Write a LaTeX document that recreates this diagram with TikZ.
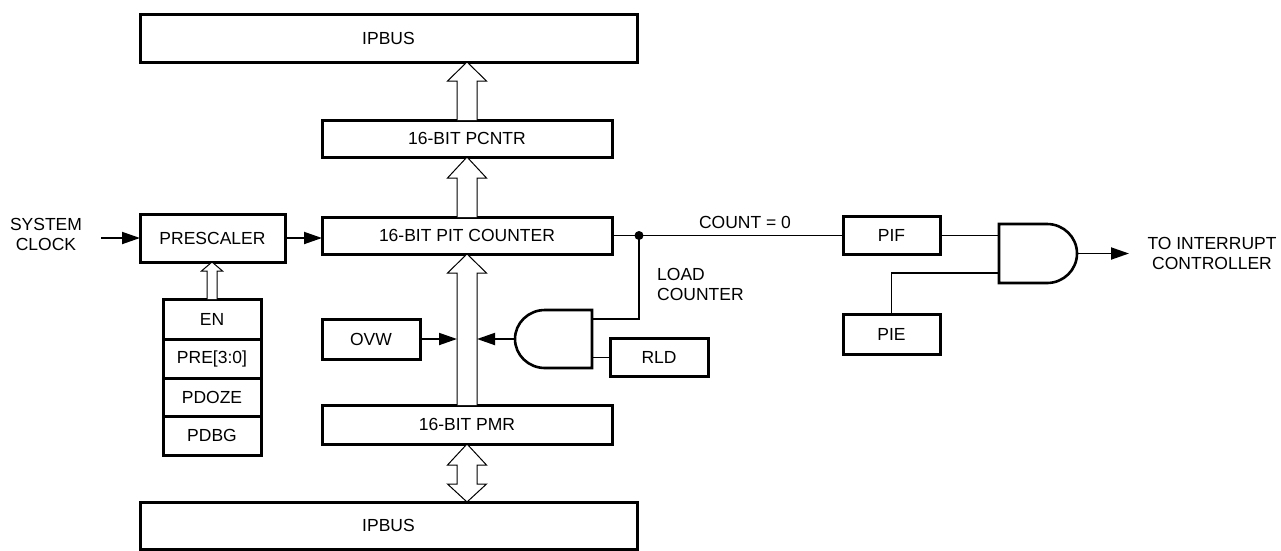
\documentclass[tikz,border=0pt]{standalone}
\usepackage{fontspec}
\setmainfont{Liberation Sans}
\usetikzlibrary{arrows.meta}
\tikzset{
  box/.style={draw, line width=3pt, rectangle, inner sep=0pt, outer sep=0pt, font=\fontsize{17.5}{20}\selectfont},
  wire/.style={line width=1.9pt},
  arr/.style={wire, -{Triangle[length=18pt,width=12pt]}},
  hollow/.style={draw, line width=1pt, fill=white, line join=miter},
  gate/.style={draw, line width=2.6pt, fill=white},
  lbl/.style={font=\fontsize{17.5}{20}\selectfont, inner sep=0pt, align=center},
}
% #1 base point, #2 tip point, #3 shaft half width, #4 head half width, #5 head length
\newcommand\busup[5]{%
  \draw[hollow] ([xshift=-#3]#1) -- ([xshift=-#3,yshift=-#5]#2) -- ([xshift=-#4,yshift=-#5]#2) -- (#2)
    -- ([xshift=#4,yshift=-#5]#2) -- ([xshift=#3,yshift=-#5]#2) -- ([xshift=#3]#1);}
\begin{document}
\begin{tikzpicture}[x=1pt,y=-1pt]
\useasboundingbox (0,0) rectangle (1281,550);

% boxes
\node[box, minimum width=497pt, minimum height=48pt] (ipbusT) at (388.5,38) {IPBUS};
\node[box, minimum width=290pt, minimum height=37pt] (pcntr) at (467,138.5) {16-BIT PCNTR};
\node[box, minimum width=290pt, minimum height=37pt] (pit) at (467,235.5) {16-BIT PIT COUNTER};
\node[box, minimum width=290pt, minimum height=39pt] (pmr) at (467,424.5) {16-BIT PMR};
\node[box, minimum width=497pt, minimum height=47pt] (ipbusB) at (388.5,525.5) {IPBUS};
\node[box, minimum width=145pt, minimum height=48pt] (pre) at (212.5,238) {PRESCALER};
\node[box, minimum width=98pt, minimum height=40pt] (en) at (212,319) {EN};
\node[box, minimum width=98pt, minimum height=39pt] (prebits) at (212,358.5) {PRE[3:0]};
\node[box, minimum width=98pt, minimum height=38pt] (pdoze) at (212,397) {PDOZE};
\node[box, minimum width=98pt, minimum height=39pt] (pdbg) at (212,435.5) {PDBG};
\node[box, minimum width=98pt, minimum height=40pt] (ovw) at (371,339) {OVW};
\node[box, minimum width=98pt, minimum height=38pt] (rld) at (659,357.5) {RLD};
\node[box, minimum width=97pt, minimum height=38pt] (pif) at (891.5,235.5) {PIF};
\node[box, minimum width=97pt, minimum height=40pt] (pie) at (891.5,334) {PIE};

% labels
\node[lbl] (sysclk) at (46,234) {SYSTEM\\CLOCK};
\node[lbl] (cnt0) at (745,222) {COUNT = 0};
\node[lbl, align=left, anchor=west] (ldc) at (657,284) {LOAD\\COUNTER};
\node[lbl] (toint) at (1212,253) {TO INTERRUPT\\CONTROLLER};

% hollow bus arrows
\coordinate (t1) at (pcntr.north |- ipbusT.south);
\busup{pcntr.north}{t1}{10pt}{19.5pt}{19pt}
\coordinate (t2) at (pit.north |- pcntr.south);
\busup{pit.north}{t2}{10pt}{19.5pt}{21pt}
\coordinate (t3) at (pmr.north |- pit.south);
\busup{pmr.north}{t3}{10pt}{19.5pt}{19pt}
\coordinate (t4) at (en.north |- pre.south);
\busup{en.north}{t4}{5pt}{10.5pt}{9pt}
% double-headed bus arrow PMR <-> IPBUS
\coordinate (d1) at (pmr.south);
\coordinate (d2) at (pmr.south |- ipbusB.north);
\draw[hollow] (d1) -- ([xshift=19.5pt,yshift=-21pt]d1) -- ([xshift=10pt,yshift=-21pt]d1)
  -- ([xshift=10pt,yshift=18pt]d2) -- ([xshift=19.5pt,yshift=18pt]d2) -- (d2)
  -- ([xshift=-19.5pt,yshift=18pt]d2) -- ([xshift=-10pt,yshift=18pt]d2)
  -- ([xshift=-10pt,yshift=-21pt]d1) -- ([xshift=-19.5pt,yshift=-21pt]d1) -- cycle;

% gates
\draw[gate] (592,310) -- (545,310) .. controls (528.4,310) and (515,323) .. (515,339)
  .. controls (515,355) and (528.4,368) .. (545,368) -- (592,368) -- cycle;
\coordinate (g1out) at (515,339);
\coordinate (g1in1) at (592,319);
\coordinate (g1in2) at (592,357.5);
\draw[gate] (999,224) -- (1047,224) .. controls (1063.6,224) and (1077,237.2) .. (1077,253.5)
  .. controls (1077,269.8) and (1063.6,283) .. (1047,283) -- (999,283) -- cycle;
\coordinate (g2in1) at (999,235.5);
\coordinate (g2in2) at (999,273);
\coordinate (g2out) at (1077,253.5);

% connectors
\coordinate (clkin) at (101,238);
\draw[arr] (clkin) -- (pre.west);
\draw[arr] (pre.east) -- (pre.east -| pit.west);
\coordinate (dot) at (639,235.5);
\draw[wire] (pit.east) -- (pif.west);
\fill (dot) circle (4.5pt);
\draw[wire] (dot) |- (g1in1);
\draw[wire] (rld.west) -- (g1in2);
\coordinate (shR) at (477,339);
\coordinate (shL) at (457,339);
\draw[arr] (g1out) -- (shR);
\draw[arr] (ovw.east) -- (shL);
\draw[wire] (pif.east) -- (g2in1);
\draw[wire] (pie.north) |- (g2in2);
\coordinate (intout) at (1129,253.5);
\draw[arr] (g2out) -- (intout);
\end{tikzpicture}
\end{document}
